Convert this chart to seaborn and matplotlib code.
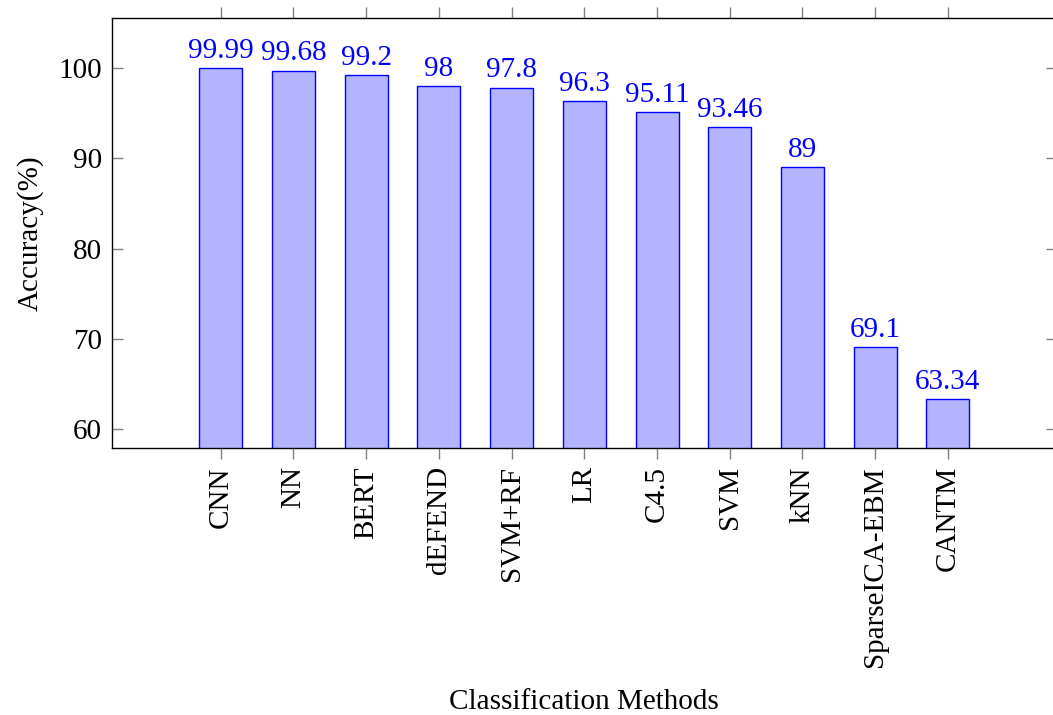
import pandas as pd
import seaborn as sns
import matplotlib
matplotlib.use("Agg")
import matplotlib.pyplot as plt

methods = ["CNN", "NN", "BERT", "dEFEND", "SVM+RF", "LR", "C4.5", "SVM", "kNN",
           "SparseICA-EBM", "CANTM"]
accuracy = [99.99, 99.68, 99.2, 98, 97.8, 96.3, 95.11, 93.46, 89, 69.1, 63.34]
value_labels = ["99.99", "99.68", "99.2", "98", "97.8", "96.3", "95.11", "93.46", "89",
                "69.1", "63.34"]
yticks = [60, 70, 80, 90, 100]

data = pd.DataFrame({"method": methods, "acc": accuracy})

sns.set_style("ticks")
plt.rcParams['font.family'] = ['Liberation Serif', 'DejaVu Serif']
plt.rcParams['text.color'] = 'black'
plt.rcParams['axes.labelcolor'] = 'black'
plt.rcParams['xtick.labelcolor'] = 'black'
plt.rcParams['ytick.labelcolor'] = 'black'

fig = plt.figure(figsize=(10.53, 7.15), dpi=100)
ax = fig.add_axes([111.7/1053, (715-448.3)/715, (1057-111.7)/1053, 430/715])

sns.barplot(data=data, x="method", y="acc", color="#b3b3ff", saturation=1,
            width=0.59, edgecolor="#0000ff", linewidth=1.0, ax=ax)

# value labels above bars
for i, v in enumerate(accuracy):
    ax.annotate(value_labels[i], (i, v), xytext=(0, 7.5), textcoords="offset points",
                ha="center", va="baseline", color="#0000ff", fontsize=21)

ax.set_xlim(-1.5, 11.5)
ax.set_ylim(57.9, 105.5)
ax.set_yticks(yticks)
ax.tick_params(axis="x", direction="out", length=8, width=1, color="#808080",
               top=True, bottom=True, labelsize=21, rotation=90, pad=5,
               labelcolor="black")
ax.tick_params(axis="y", direction="in", length=8, width=1, color="#808080",
               left=True, right=True, labelsize=21, pad=7, labelcolor="black")
for s in ax.spines.values():
    s.set_visible(True)
    s.set_color("black")
    s.set_linewidth(1.0)

ax.set_xlabel("Classification Methods", fontsize=21, color="black")
ax.xaxis.set_label_coords(0.5, -0.56)
ax.set_ylabel("Accuracy(%)", fontsize=21, color="black")
ax.yaxis.set_label_coords(-0.072, 0.5)

fig.savefig("out.png", dpi=100)
